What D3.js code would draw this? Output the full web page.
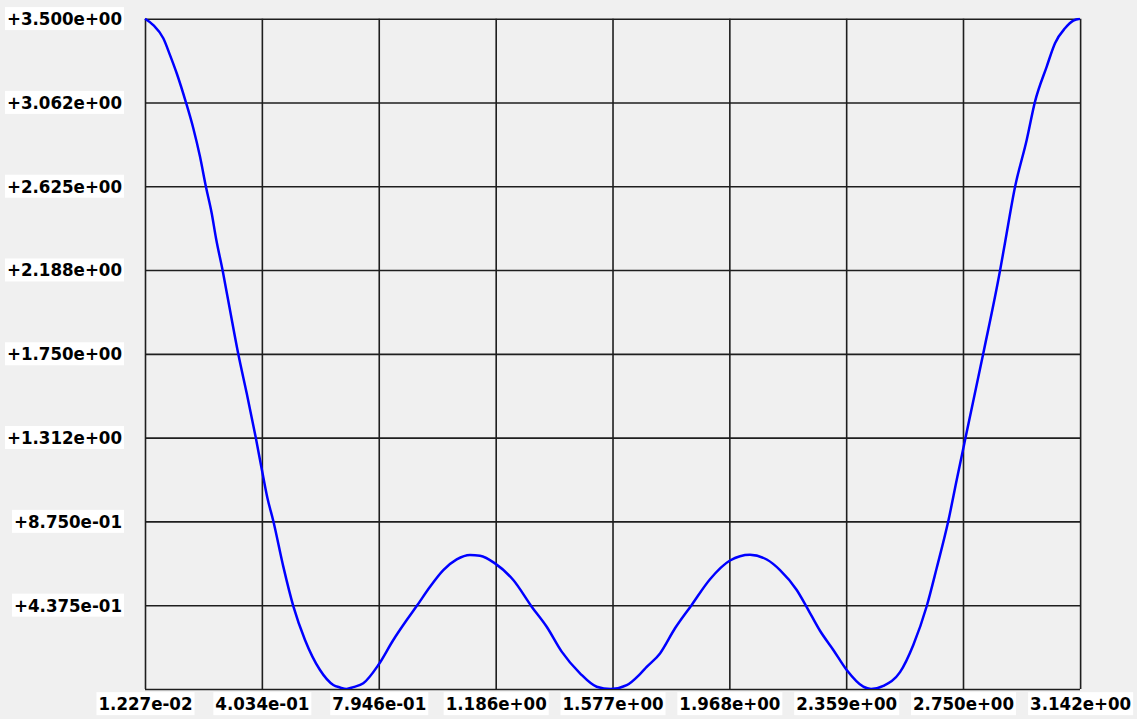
<!DOCTYPE html>
<html>
<head>
<meta charset="utf-8">
<script src="https://cdn.jsdelivr.net/npm/d3@7"></script>
<style>
  html, body { margin: 0; padding: 0; background: #f0f0f0; }
  svg { display: block; }
  .lbl text { font-family: "DejaVu Sans Condensed", "DejaVu Sans", sans-serif; font-stretch: condensed; font-weight: bold; font-size: 18.5px; fill: #000; }
</style>
</head>
<body>
<svg id="chart" width="1137" height="719"></svg>
<script>
// ---- data ----
const xTickValues = [0.01227, 0.4034, 0.7946, 1.186, 1.577, 1.968, 2.359, 2.750, 3.142];
const xTickLabels = ["1.227e-02", "4.034e-01", "7.946e-01", "1.186e+00", "1.577e+00", "1.968e+00", "2.359e+00", "2.750e+00", "3.142e+00"];
const yTickValues = [0, 0.4375, 0.875, 1.3125, 1.75, 2.1875, 2.625, 3.0625, 3.5];
const yTickLabels = ["", "+4.375e-01", "+8.750e-01", "+1.312e+00", "+1.750e+00", "+2.188e+00", "+2.625e+00", "+3.062e+00", "+3.500e+00"];

const freq = [0.0123, 0.0400, 0.0735, 0.0960, 0.1184, 0.1485, 0.1739, 0.1963, 0.2164, 0.2355,
  0.2499, 0.2723, 0.2967, 0.3245, 0.3527, 0.3828, 0.4028, 0.4216, 0.4417, 0.4752,
  0.5086, 0.5478, 0.5980, 0.6425, 0.6649, 0.6867, 0.7094, 0.7429, 0.7931, 0.8433,
  0.8882, 0.9216, 0.9662, 1.0107, 1.0555, 1.1000, 1.1335, 1.1837, 1.2449, 1.3065,
  1.3567, 1.4069, 1.4682, 1.5241, 1.5710, 1.6245, 1.6690, 1.6914, 1.7360, 1.7862,
  1.8420, 1.9033, 1.9702, 2.0372, 2.0931, 2.1376, 2.1935, 2.2269, 2.2714, 2.3160,
  2.3608, 2.4164, 2.4422, 2.4833, 2.5392, 2.5837, 2.6285, 2.6620, 2.7008, 2.7289,
  2.7568, 2.8180, 2.8739, 2.8906, 2.9241, 2.9632, 2.9910, 3.0302, 3.0580, 3.0914,
  3.1192, 3.1416];
const magnitude = [3.500, 3.467, 3.398, 3.310, 3.215, 3.067, 2.928, 2.780, 2.621, 2.484,
  2.354, 2.184, 1.979, 1.749, 1.544, 1.314, 1.150, 1.000, 0.877, 0.639,
  0.433, 0.256, 0.099, 0.021, 0.008, 0.000, 0.010, 0.030, 0.125, 0.256,
  0.360, 0.433, 0.534, 0.621, 0.677, 0.700, 0.696, 0.656, 0.569, 0.430,
  0.325, 0.195, 0.082, 0.012, 0.000, 0.020, 0.078, 0.115, 0.186, 0.317,
  0.439, 0.573, 0.671, 0.701, 0.676, 0.621, 0.517, 0.428, 0.304, 0.204,
  0.099, 0.012, 0.000, 0.016, 0.088, 0.230, 0.432, 0.632, 0.877, 1.091,
  1.300, 1.753, 2.184, 2.330, 2.621, 2.867, 3.067, 3.250, 3.372, 3.450,
  3.490, 3.500];

// ---- layout ----
const svg = d3.select("#chart");
const plotLeft = 145, plotRight = 1080, plotTop = 18.7, plotBottom = 689;

const x = d3.scaleLinear().domain([0.01227, 3.1416]).range([plotLeft, plotRight]);
const y = d3.scaleLinear().domain([0, 3.5]).range([plotBottom, plotTop]);

svg.append("rect").attr("width", 1137).attr("height", 719).attr("fill", "#f0f0f0");

svg.append("defs").append("clipPath").attr("id", "plotclip")
  .append("rect").attr("x", plotLeft - 1).attr("y", plotTop - 1)
  .attr("width", plotRight - plotLeft + 2).attr("height", plotBottom - plotTop + 1);

// grid + labels via axes
const xAxis = d3.axisBottom(x)
  .tickValues(xTickValues)
  .tickFormat((d, i) => xTickLabels[i])
  .tickSize(-(plotBottom - plotTop))
  .tickPadding(8);
const yAxis = d3.axisLeft(y)
  .tickValues(yTickValues)
  .tickFormat((d, i) => yTickLabels[i])
  .tickSize(-(plotRight - plotLeft))
  .tickPadding(23);

const gx = svg.append("g").attr("class", "lbl").attr("transform", `translate(0,${plotBottom})`).call(xAxis);
const gy = svg.append("g").attr("class", "lbl").attr("transform", `translate(${plotLeft},0)`).call(yAxis);

[gx, gy].forEach(g => {
  g.attr("font-family", null).attr("font-size", null);
  g.select(".domain").remove();
  g.selectAll(".tick line").attr("stroke", "#1e1e1e").attr("stroke-width", 1.6);
});

// white boxes behind labels
svg.selectAll(".lbl .tick text").each(function () {
  if (!this.textContent) return;
  const bb = this.getBBox();
  d3.select(this.parentNode).insert("rect", "text")
    .attr("x", bb.x - 2).attr("y", bb.y - 1)
    .attr("width", bb.width + 4).attr("height", bb.height + 2)
    .attr("fill", "#ffffff");
});

// curve
const pts = freq.map((f, i) => [f, magnitude[i]]);
const line = d3.line()
  .x(d => x(d[0]))
  .y(d => y(d[1]))
  .curve(d3.curveMonotoneX);

svg.append("path")
  .datum(pts)
  .attr("clip-path", "url(#plotclip)")
  .attr("fill", "none")
  .attr("stroke", "#0000ff")
  .attr("stroke-width", 2.5)
  .attr("stroke-linejoin", "round")
  .attr("d", line);
</script>
</body>
</html>
